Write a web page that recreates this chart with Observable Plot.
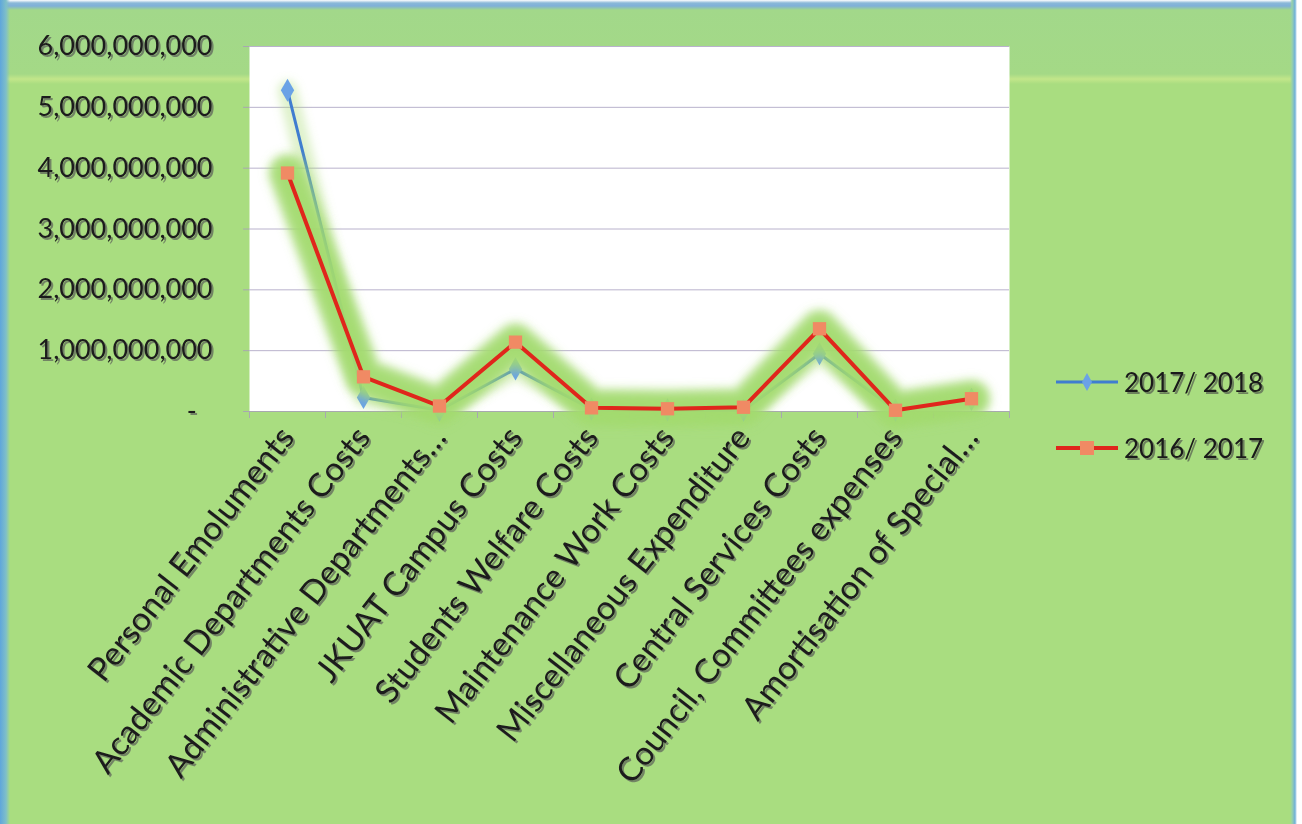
<!DOCTYPE html>
<html>
<head>
<meta charset="utf-8">
<script src="https://cdn.jsdelivr.net/npm/d3@7"></script>
<script src="https://cdn.jsdelivr.net/npm/@observablehq/plot@0.6"></script>
<style>
  html, body { margin: 0; padding: 0; background: #ffffff; }
  #wrap {
    position: relative; width: 1302px; height: 824px; overflow: hidden;
    font-family: Lato, "Open Sans", sans-serif;
    background:
      linear-gradient(to right, #5ea6dc 0px, #7fbfc8 6px, rgba(0,0,0,0) 10px),
      linear-gradient(to left, #ffffff 0px, #ffffff 5px, #6fb0d8 7px, #98d2a8 10px, rgba(0,0,0,0) 12px),
      linear-gradient(to bottom, #ffffff 0px, #8ab8d8 3px, #7fb0d8 6px, #a2d88a 10px, #a4d986 74px, #c2e68a 79px, #a9dd80 84px, #a9dd80 100%);
  }
  #legend { position: absolute; left: 1056px; top: 362px; font-size: 26px; color: #1a1a1a; }
  #legend .row { display: flex; align-items: center; height: 40px; margin-bottom: 26px; }
  #legend svg { margin-right: 4px; }
  #legend span { filter: drop-shadow(2px 2px 0.6px rgba(70,70,70,0.6)); }
</style>
</head>
<body>
<div id="wrap">
  <div id="chart"></div>
  <div id="legend"></div>
</div>
<script>
const categories = [
  "Personal Emoluments",
  "Academic Departments Costs",
  "Administrative Departments…",
  "JKUAT Campus Costs",
  "Students Welfare Costs",
  "Maintenance Work Costs",
  "Miscellaneous Expenditure",
  "Central Services Costs",
  "Council, Committees expenses",
  "Amortisation of Special…"
];
const series = ["2017/ 2018", "2016/ 2017"];
const values2017_2018 = [5.28e9, 0.23e9, 0.02e9, 0.70e9, 0.04e9, 0.03e9, 0.02e9, 0.95e9, 0.02e9, 0.20e9];
const values2016_2017 = [3.92e9, 0.57e9, 0.09e9, 1.14e9, 0.06e9, 0.045e9, 0.07e9, 1.36e9, 0.02e9, 0.21e9];
const yTicks = [0, 1e9, 2e9, 3e9, 4e9, 5e9, 6e9];
const seriesColors = ["#3f7dd0", "#e0261c"];
const markerFills = ["#6aa2e6", "#f08a64"];

const rows = [];
categories.forEach((c, i) => {
  rows.push({category: c, series: series[0], value: values2017_2018[i]});
  rows.push({category: c, series: series[1], value: values2016_2017[i]});
});
const s1 = rows.filter(d => d.series === series[0]);
const s2 = rows.filter(d => d.series === series[1]);

const W = 1302, H = 824, ML = 249, MR = 293, MT = 46, MB = 413;
const bw = (W - ML - MR) / categories.length;
const fmt = d3.format(",");
const glowOpts = {x: "category", y: "value", stroke: "#a2da6e", strokeLinejoin: "round", strokeLinecap: "round", ariaDescription: "glow"};

const chart = Plot.plot({
  width: W, height: H,
  marginLeft: ML, marginRight: MR, marginTop: MT, marginBottom: MB,
  style: {background: "transparent", fontFamily: "Lato, 'Open Sans', sans-serif", color: "#1a1a1a", overflow: "visible"},
  x: {type: "band", domain: categories, padding: 0, label: null},
  y: {domain: [0, 6e9], label: null},
  marks: [
    Plot.frame({fill: "white", stroke: null}),
    Plot.gridY(yTicks.slice(1), {stroke: "#b9b2cc", strokeOpacity: 1}),
    Plot.ruleY([0], {stroke: "#a8a8b0"}),
    Plot.axisY(yTicks, {tickSize: 6, tickPadding: 31, fontSize: 27, line: true, stroke: "#a8a8b0", label: null,
      tickFormat: d => d === 0 ? "-\u2007" : fmt(d)}),
    Plot.axisX({tickSize: 7, tickFormat: () => "", dx: -bw / 2, stroke: "#a8a8b0", label: null}),
    Plot.axisX([categories[categories.length - 1]], {tickSize: 7, tickFormat: () => "", dx: bw / 2, stroke: "#a8a8b0", label: null}),
    Plot.axisX({tickSize: 0, tickPadding: 20, tickRotate: -52, fontSize: 33, label: null}),
    // blue series (partly veiled by the glow of the red one)
    Plot.line(s1, {...glowOpts, strokeWidth: 20, strokeOpacity: 0.35}),
    Plot.line(s1, {x: "category", y: "value", stroke: seriesColors[0], strokeWidth: 3}),
    Plot.dot(s1, {x: "category", y: "value", symbol: "diamond", r: 7, fill: markerFills[0], stroke: null}),
    // soft green glow behind the red series
    Plot.line(s2, {...glowOpts, strokeWidth: 42, strokeOpacity: 0.35}),
    Plot.line(s2, {...glowOpts, strokeWidth: 34, strokeOpacity: 0.6}),
    Plot.line(s2, {...glowOpts, strokeWidth: 26, strokeOpacity: 0.85}),
    Plot.line(s2, {x: "category", y: "value", stroke: seriesColors[1], strokeWidth: 4}),
    Plot.dot(s2, {x: "category", y: "value", symbol: "square", r: 7.5, fill: markerFills[1], stroke: null})
  ]
});

// filters for glow and text shadow
const ns = "http://www.w3.org/2000/svg";
const defs = document.createElementNS(ns, "defs");
defs.innerHTML = `
  <filter id="glowblur" x="-30%" y="-30%" width="160%" height="160%">
    <feGaussianBlur stdDeviation="4"/>
  </filter>
  <filter id="tshadow" x="-10%" y="-10%" width="130%" height="130%">
    <feDropShadow dx="2" dy="2" stdDeviation="0.6" flood-color="#555" flood-opacity="0.65"/>
  </filter>`;
chart.insertBefore(defs, chart.firstChild);
chart.querySelectorAll('g[aria-description="glow"]').forEach(g => g.setAttribute("filter", "url(#glowblur)"));
chart.querySelectorAll('g[aria-label$="tick label"]').forEach(g => g.setAttribute("filter", "url(#tshadow)"));
document.getElementById("chart").appendChild(chart);

// legend
const legend = document.getElementById("legend");
series.forEach((s, i) => {
  const row = document.createElement("div");
  row.className = "row";
  const sym = i === 0
    ? `<path d="M31,3 L36,12 L31,21 L26,12 Z" fill="${markerFills[0]}"/>`
    : `<rect x="24" y="5" width="14" height="14" fill="${markerFills[1]}"/>`;
  row.innerHTML = `<svg width="64" height="24"><line x1="0" y1="12" x2="62" y2="12" stroke="${seriesColors[i]}" stroke-width="${i === 0 ? 3 : 4}"/>${sym}</svg><span>${s}</span>`;
  legend.appendChild(row);
});
</script>
</body>
</html>
